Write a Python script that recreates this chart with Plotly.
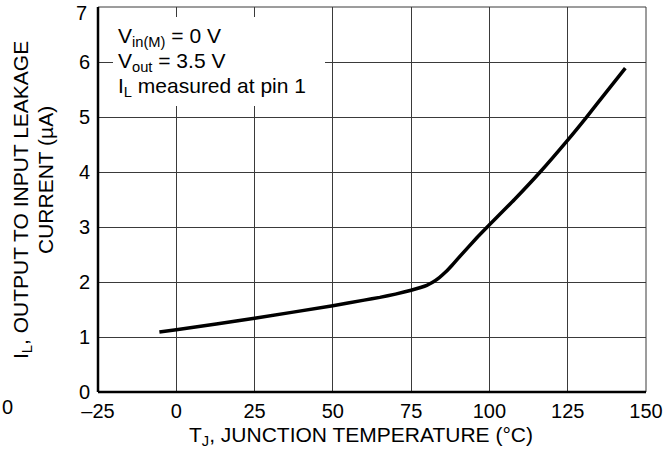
import plotly.graph_objects as go

# Data
temp_c = [-5.4, 0, 25, 50, 60, 65, 70, 75, 78, 80, 82, 84, 86, 88, 90, 95.9, 99.3, 108, 116.2, 125, 130.9, 137, 143.4]
leak_ua = [1.09, 1.13, 1.34, 1.57, 1.67, 1.72, 1.78, 1.85, 1.9, 1.94, 2.0, 2.08, 2.18, 2.3, 2.43, 2.8, 3.0, 3.5, 4.0, 4.58, 4.99, 5.43, 5.89]
x_ticks = [-25, 0, 25, 50, 75, 100, 125, 150]
x_tick_text = ["\u201325", "0", "25", "50", "75", "100", "125", "150"]
y_ticks = [0, 1, 2, 3, 4, 5, 6, 7]
y_tick_text = ["0", "1", "2", "3", "4", "5", "6", "7"]
note_lines = ["V<sub>in(M)</sub> = 0 V", "V<sub>out</sub> = 3.5 V", "I<sub>L</sub> measured at pin 1"]

W, H = 671, 456
L, R, T, B = 98, 25, 7, 64
pw, ph = W - L - R, H - T - B

def px(x):
    return (x - L) / pw

def py(y):
    return (H - B - y) / ph

FONT = "Liberation Sans, Arial, sans-serif"
FS_TICK = 20
FS_TEXT = 21

fig = go.Figure()
fig.add_trace(go.Scatter(x=temp_c, y=leak_ua, mode="lines",
                         line=dict(color="black", width=3.5, shape="spline", smoothing=0.5),
                         hoverinfo="skip", showlegend=False))

grid = "#3a3a3a"
fig.update_layout(
    width=W, height=H,
    margin=dict(l=L, r=R, t=T, b=B, autoexpand=False),
    paper_bgcolor="white", plot_bgcolor="white",
    font=dict(family=FONT, size=FS_TICK, color="black"),
    xaxis=dict(range=[-25, 150], tickvals=x_ticks, ticktext=x_tick_text, automargin=False,
               showgrid=True, gridcolor=grid, gridwidth=1, zeroline=False,
               showline=False, ticks="", ticklabelstandoff=5,
               tickfont=dict(size=FS_TICK, family=FONT, color="black")),
    yaxis=dict(range=[0, 7], tickvals=y_ticks[:-1], ticktext=y_tick_text[:-1], automargin=False,
               showgrid=True, gridcolor=grid, gridwidth=1,
               zeroline=False, showline=False, ticks="", ticklabelstandoff=7,
               tickfont=dict(size=FS_TICK, family=FONT, color="black")),
    showlegend=False,
)

shapes = [
    dict(type="rect", xref="paper", yref="paper", x0=px(113), x1=px(325), y0=py(106), y1=py(17),
         fillcolor="white", line=dict(width=0), layer="above"),
    dict(type="line", xref="paper", yref="paper", x0=0, x1=1, y0=1, y1=1, line=dict(color=grid, width=1)),
    dict(type="line", xref="paper", yref="paper", x0=1, x1=1, y0=0, y1=1, line=dict(color=grid, width=1)),
    dict(type="line", xref="paper", yref="paper", x0=0, x1=1, y0=0, y1=0, line=dict(color="black", width=2.5)),
    dict(type="line", xref="paper", yref="paper", x0=0, x1=0, y0=0, y1=1, line=dict(color="black", width=2.5)),
]
fig.update_layout(shapes=shapes)

ann = []
for txt, yc in zip(note_lines, [37, 62, 87]):
    ann.append(dict(text=txt, xref="paper", yref="paper", x=px(116), y=py(yc),
                    xanchor="left", yanchor="middle", showarrow=False,
                    font=dict(size=FS_TEXT, family=FONT, color="black")))
# top tick label kept inside the page
ann.append(dict(text=y_tick_text[-1], xref="paper", yref="paper", x=px(89), y=py(13),
                xanchor="right", yanchor="middle", showarrow=False,
                font=dict(size=FS_TICK, family=FONT, color="black")))
ann.append(dict(text="T<sub>J</sub>, JUNCTION TEMPERATURE (\u00b0C)", xref="paper", yref="paper",
                x=px(361), y=py(436), xanchor="center", yanchor="middle", showarrow=False,
                font=dict(size=FS_TEXT, family=FONT, color="black")))
ann.append(dict(text="I<sub>L</sub>, OUTPUT TO INPUT LEAKAGE", xref="paper", yref="paper",
                x=px(22), y=py(200), xanchor="center", yanchor="middle", textangle=-90, showarrow=False,
                font=dict(size=FS_TEXT, family=FONT, color="black")))
ann.append(dict(text="CURRENT (\u00b5A)", xref="paper", yref="paper",
                x=px(45), y=py(180), xanchor="center", yanchor="middle", textangle=-90, showarrow=False,
                font=dict(size=FS_TEXT, family=FONT, color="black")))
ann.append(dict(text="0", xref="paper", yref="paper", x=px(0), y=py(407),
                xanchor="left", yanchor="middle", showarrow=False,
                font=dict(size=FS_TICK, family=FONT, color="black")))
fig.update_layout(annotations=ann)

fig.write_html("out.html", config={"displayModeBar": False},
               post_script="document.body.style.margin='0';document.body.style.overflow='hidden';")
